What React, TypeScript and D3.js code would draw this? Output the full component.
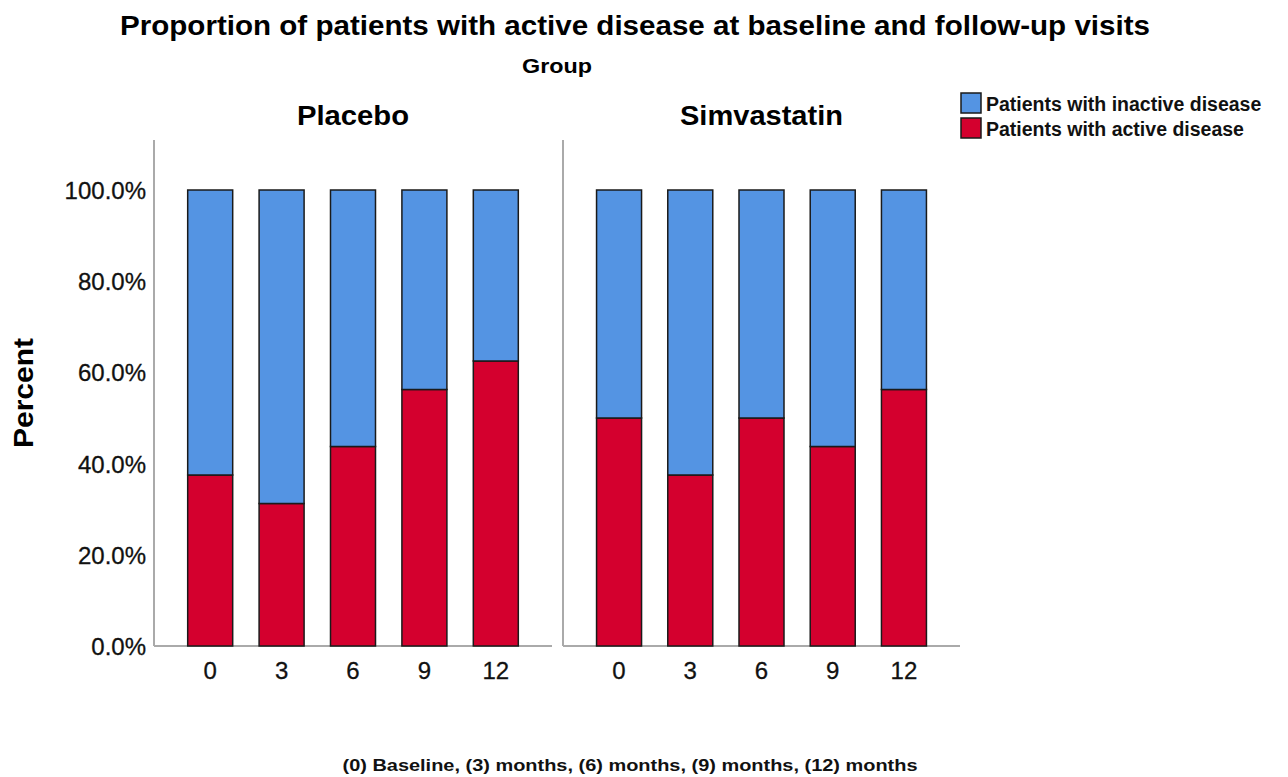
import React from "react";
import * as d3 from "d3";

const groups = ["Placebo", "Simvastatin"];
const visits = ["0", "3", "6", "9", "12"];
const placeboActive = [37.5, 31.25, 43.75, 56.25, 62.5];
const simvastatinActive = [50, 37.5, 50, 43.75, 56.25];
const yTicks = [0, 20, 40, 60, 80, 100];
const seriesNames = ["Patients with inactive disease", "Patients with active disease"];
const colors = ["#5494E3", "#D4002E"];

const activeByGroup = [placeboActive, simvastatinActive];

export default function App() {
  const W = 1288, H = 777;
  const y = d3.scaleLinear().domain([0, 100]).range([646, 190]);
  const panelRanges: [number, number][] = [[154, 552], [563, 960]];
  const axisTop = 140;
  const barW = 45;
  const font = "Arial, 'Liberation Sans', sans-serif";

  return (
    <svg width={W} height={H} style={{ position: "absolute", left: 0, top: 0, background: "#fff" }}>
      <text x={635} y={35} textAnchor="middle" fontFamily={font} fontWeight="bold" fontSize={27.5} textLength={1030} lengthAdjust="spacingAndGlyphs">
        Proportion of patients with active disease at baseline and follow-up visits
      </text>
      <text x={557} y={73} textAnchor="middle" fontFamily={font} fontWeight="bold" fontSize={20} textLength={70} lengthAdjust="spacingAndGlyphs">Group</text>
      <text transform="translate(33,393) rotate(-90)" textAnchor="middle" fontFamily={font} fontWeight="bold" fontSize={27} textLength={110} lengthAdjust="spacingAndGlyphs">Percent</text>
      {yTicks.map((t) => (
        <text key={t} x={146} y={y(t) + 9} textAnchor="end" fontFamily={font} fontSize={24} fill="#111" stroke="#111" strokeWidth={0.3}>
          {d3.format(".1f")(t) + "%"}
        </text>
      ))}
      {groups.map((g, gi) => {
        const [x0, x1] = panelRanges[gi];
        const x = d3.scalePoint<string>().domain(visits).range([x0, x1]).padding(0.787);
        const st = d3.stack<number>().keys(["a", "i"]).value((d, k) => (k === "a" ? d : 100 - d))(activeByGroup[gi] as any);
        const titleLen = gi === 0 ? 112 : 163;
        return (
          <g key={g}>
            <text x={(x0 + x1) / 2} y={125} textAnchor="middle" fontFamily={font} fontWeight="bold" fontSize={27} textLength={titleLen} lengthAdjust="spacingAndGlyphs">{g}</text>
            <line x1={x0} x2={x0} y1={axisTop} y2={646} stroke="#aaa" strokeWidth={2} />
            <line x1={x0} x2={x1} y1={646} y2={646} stroke="#aaa" strokeWidth={2} />
            {st.map((layer, li) =>
              layer.map((seg, vi) => (
                <rect
                  key={li + "-" + vi}
                  x={(x(visits[vi]) as number) - barW / 2}
                  y={y(seg[1])}
                  width={barW}
                  height={y(seg[0]) - y(seg[1])}
                  fill={li === 0 ? colors[1] : colors[0]}
                  stroke="#1a1a1a"
                  strokeWidth={1.5}
                />
              ))
            )}
            {visits.map((v) => (
              <text key={v} x={x(v)} y={679} textAnchor="middle" fontFamily={font} fontSize={24} fill="#111" stroke="#111" strokeWidth={0.3}>{v}</text>
            ))}
          </g>
        );
      })}
      {seriesNames.map((s, i) => (
        <g key={s} transform={`translate(961, ${93 + i * 25})`}>
          <rect x={0} y={0} width={20} height={20} fill={colors[i]} stroke="#1a1a1a" strokeWidth={1.5} />
          <text x={25} y={18} fontFamily={font} fontWeight="bold" fontSize={19.5} fill="#111">{s}</text>
        </g>
      ))}
      <text x={630} y={771} textAnchor="middle" fontFamily="'Liberation Sans Narrow', 'Arial Narrow', sans-serif" fontWeight="bold" fontSize={17} fill="#111" textLength={575} lengthAdjust="spacingAndGlyphs">
        (0) Baseline, (3) months, (6) months, (9) months, (12) months
      </text>
    </svg>
  );
}
